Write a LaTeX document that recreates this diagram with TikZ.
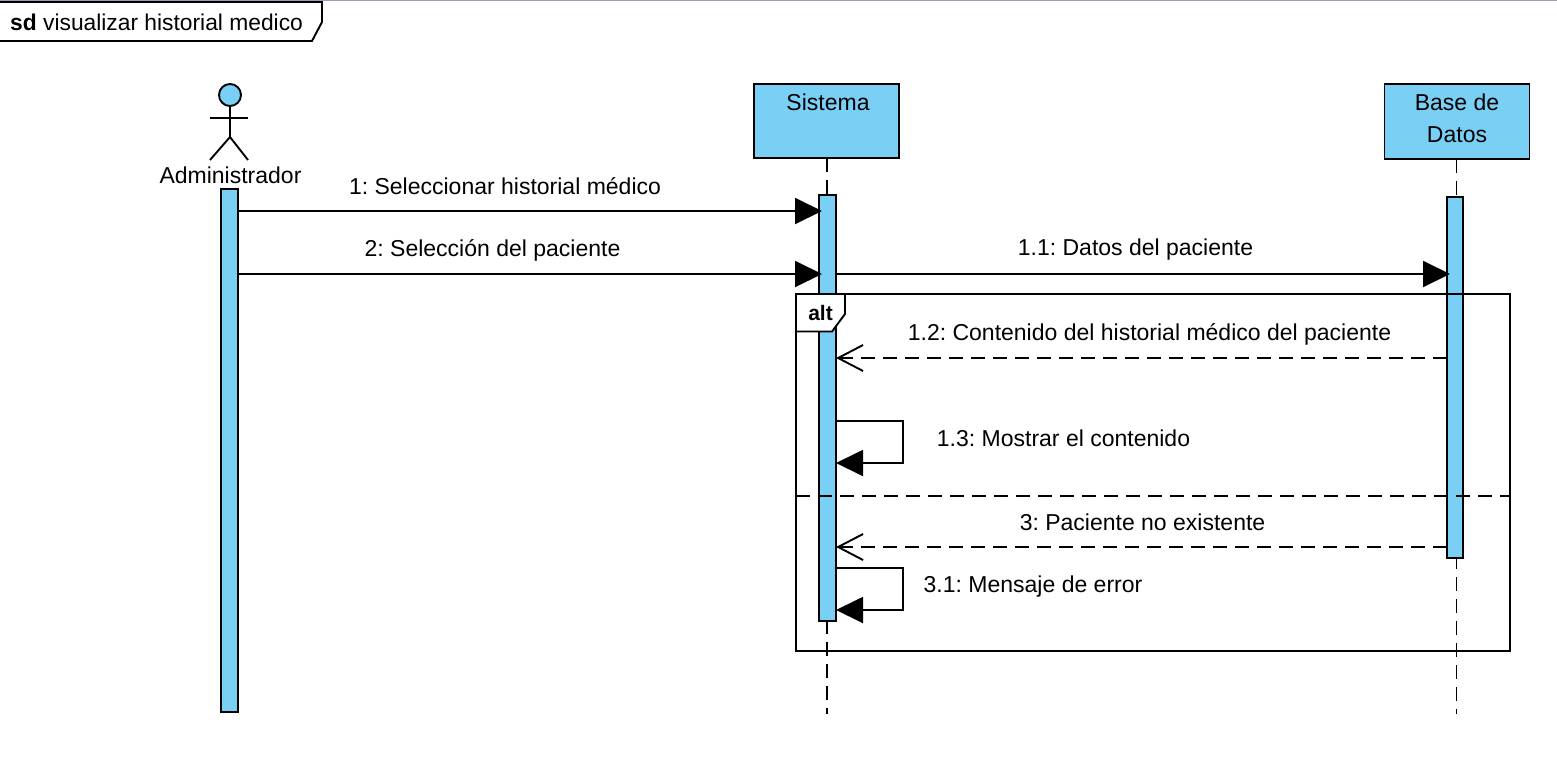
\documentclass[tikz,border=0pt]{standalone}
\usepackage{fontspec}
\setmainfont{Liberation Sans}
\usetikzlibrary{arrows.meta}
\definecolor{umlblue}{HTML}{7ACFF5}
\frenchspacing
\tikzset{
  x=1pt,y=-1pt,
  ink/.style={draw=black,line width=1.9pt},
  head/.style={ink,fill=umlblue,anchor=north west,inner sep=0pt,outer sep=0pt,minimum width=145pt,minimum height=74pt},
  bar/.style={ink,fill=umlblue,anchor=north west,inner sep=0pt,outer sep=0pt},
  life/.style={draw=black,line width=1.9pt,dash pattern=on 14pt off 8pt},
  lbl/.style={font=\fontsize{23}{32}\selectfont,inner sep=0pt,text=black},
  sync/.style={draw=black,line width=1.9pt,-{Triangle[length=27pt,width=26pt]},shorten >=-3pt},
  reply/.style={draw=black,line width=1.9pt,dash pattern=on 14pt off 8pt,-{Straight Barb[length=25pt,width=26pt,line width=1.9pt]}},
  selfmsg/.style={draw=black,line width=1.9pt,-{Triangle[length=27pt,width=26pt]}},
  frameline/.style={draw=black,line width=1.9pt},
}
\begin{document}
\begin{tikzpicture}
\useasboundingbox (0,0) rectangle (1557,764);
\fill[white] (0,0) rectangle (1557,764);
\draw[draw=black!55!blue!40!white,line width=1.5pt] (0,0.5) -- (1557,0.5);

% sd frame
\draw[frameline,fill=white] (-2,2) -- (322,2) -- (322,22) -- (312,41) -- (-2,41) -- cycle;
\node[lbl,font=\fontsize{22.8}{32}\selectfont,anchor=base west] (sdtitle) at (10,30) {\textbf{sd} visualizar historial medico};

% heads
\node[head] (sys) at (754,84) {};
\node[head,minimum height=75pt] (bd) at (1384.5,84) {};
\node[lbl] (syslabel) at (828,102) {Sistema};
\node[lbl,align=center] (bdlabel) at (1457,118) {Base de\\Datos};

% actor
\node[circle,ink,fill=umlblue,minimum size=22pt,inner sep=0pt,outer sep=0pt] (actorhead) at (230,95) {};
\coordinate (hip) at (230,137);
\coordinate (armL) at (210,118);
\coordinate (armR) at (248,118);
\coordinate (footL) at (210,160);
\coordinate (footR) at (248,160);
\draw[frameline] (actorhead.south) -- (hip) -- (footL);
\draw[frameline] (hip) -- (footR);
\draw[frameline] (armL) -- (armR);
\node[lbl] (adm) at (230.5,175) {Administrador};

% lifeline ends
\coordinate (sysend) at (827,714);
\coordinate (bdend) at (1456.5,714);
\draw[life] (sys.south -| sysend) -- (sysend);
\draw[life] (bd.south -| bdend) -- (bdend);

% activations
\node[bar,minimum width=17pt,minimum height=523pt] (admbar) at (221,189) {};
\node[bar,minimum width=17pt,minimum height=426pt] (sysbar) at (819,195) {};
\node[bar,minimum width=16pt,minimum height=361pt] (bdbar) at (1447,197) {};

% alt frame
\node[ink,anchor=north west,inner sep=0pt,outer sep=0pt,minimum width=714pt,minimum height=357pt] (alt) at (796,294) {};
\coordinate (divL) at (796,496);
\coordinate (divR) at (1510,496);
\draw[life] (divL) -- (divR);
\draw[frameline,fill=white] (796,294) -- (845,294) -- (845,314) -- (832,331.5) -- (796,331.5) -- cycle;
\node[lbl,font=\fontsize{21}{26}\selectfont\bfseries] (altlabel) at (820.5,313) {alt};

% messages
\draw[sync] (admbar.east |- 0,211) -- (sysbar.west |- 0,211);
\draw[sync] (admbar.east |- 0,274) -- (sysbar.west |- 0,274);
\draw[sync] (sysbar.east |- 0,274) -- (bdbar.west |- 0,274);
\draw[reply] (bdbar.west |- 0,358) -- (sysbar.east |- 0,358);
\draw[reply] (bdbar.west |- 0,547) -- (sysbar.east |- 0,547);
\draw[selfmsg] (sysbar.east |- 0,421) -- (903,421) -- (903,463) -- (sysbar.east |- 0,463);
\draw[selfmsg] (sysbar.east |- 0,568) -- (903,568) -- (903,610) -- (sysbar.east |- 0,610);

% labels
\node[lbl] (m1) at (505,186) {1: Seleccionar historial médico};
\node[lbl] (m2) at (492.5,250) {2: Selección del paciente};
\node[lbl] (m11) at (1135.5,249.5) {1.1: Datos del paciente};
\node[lbl] (m12) at (1149.5,334) {1.2: Contenido del historial médico del paciente};
\node[lbl] (m13) at (1063.5,438) {1.3: Mostrar el contenido};
\node[lbl] (m3) at (1142.5,522) {3: Paciente no existente};
\node[lbl] (m31) at (1033,587) {3.1: Mensaje de error};
\end{tikzpicture}
\end{document}
